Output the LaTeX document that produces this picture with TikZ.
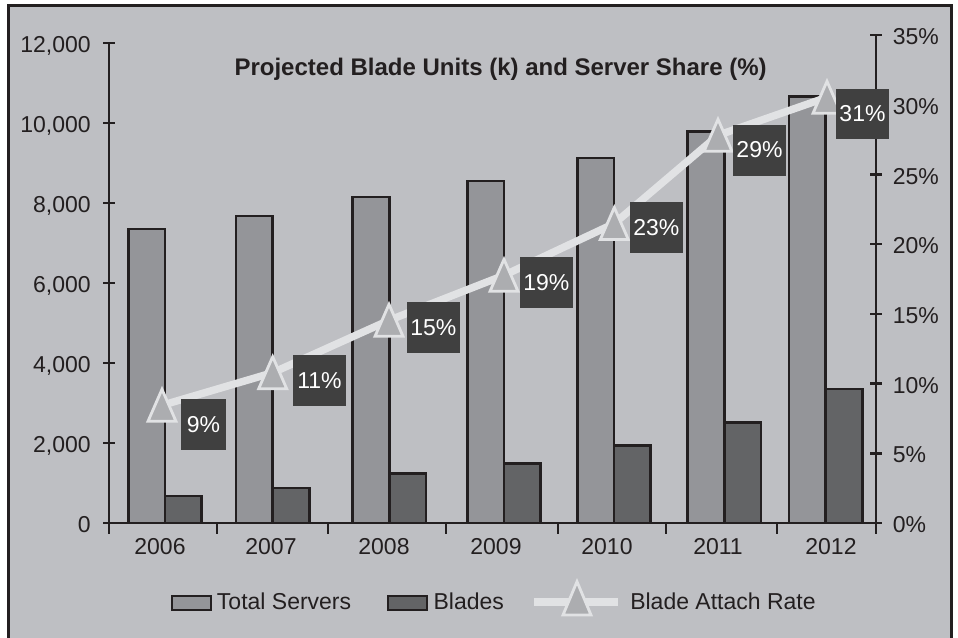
\documentclass[tikz,border=0pt]{standalone}
\usepackage{fontspec}
\setmainfont{Liberation Sans}
\definecolor{panelgray}{RGB}{190,191,195}
\definecolor{servergray}{RGB}{148,149,153}
\definecolor{bladegray}{RGB}{99,100,102}
\definecolor{boxgray}{RGB}{64,64,64}
\definecolor{ratelight}{RGB}{225,226,228}
\definecolor{markergray}{RGB}{172,173,176}
\definecolor{inkblack}{RGB}{35,31,32}
\newcommand\plainsize{\fontsize{17.25pt}{20pt}\selectfont}
\newcommand\titlesize{\fontsize{18pt}{21pt}\selectfont\bfseries}
\tikzset{
  frameline/.style={draw=inkblack,line width=2.25pt},
  axisline/.style={draw=inkblack,line width=1.9pt},
  serverbar/.style={fill=servergray,draw=inkblack,line width=1.9pt},
  bladebar/.style={fill=bladegray,draw=inkblack,line width=1.9pt},
  rateline/.style={draw=ratelight,line width=5.6pt},
  ratemarker/.style={fill=markergray,draw=ratelight,line width=2.1pt,line join=miter},
  valuebox/.style={fill=boxgray,text=white,inner sep=0pt,minimum width=39.75pt,minimum height=38.25pt,font=\plainsize},
  ticklabel/.style={text=inkblack,inner sep=0pt,font=\plainsize},
  legendtext/.style={text=inkblack,inner sep=0pt,anchor=base west,font=\plainsize}
}
\begin{document}
\begin{tikzpicture}[x=0.75pt,y=-0.75pt]
\useasboundingbox (0,0) rectangle (958,637);
% panel and frame
\begin{scope}
  \clip (0,0) rectangle (958,637);
  \fill[white] (0,0) rectangle (958,637);
  \fill[panelgray] (8,5) rectangle (951,660);
  \draw[frameline] (8,5) rectangle (951,660);
\end{scope}

% bars: group centre / server top / blade top (pixels)
\foreach \c/\s/\b in {165/229/496, 272.7/216/488, 389.3/197/473.3, 504/181/463.3,
                      614/158/445.7, 724.3/131.7/422.7, 825.7/96.5/389}{
  \draw[serverbar] (\c-36.7,523) rectangle (\c,\s);
  \draw[bladebar] (\c,523) rectangle (\c+36.7,\b);
}

% left axis
\draw[axisline] (109,43) -- (109,534);
\foreach \y/\t in {43/12{,}000, 123/10{,}000, 203/8{,}000, 283/6{,}000, 363/4{,}000, 443/2{,}000, 523/0}{
  \draw[axisline] (103,\y) -- (115,\y);
  \node[ticklabel,anchor=base east] (L\y) at (91,\y+9.5) {\t};
}
% right axis
\draw[axisline] (876,35.1) -- (876,534);
\foreach \y/\t in {35.1/35, 104.8/30, 174.5/25, 244.2/20, 313.9/15, 383.6/10, 453.3/5, 523/0}{
  \draw[axisline] (870,\y) -- (882,\y);
  \node[ticklabel,anchor=base west] (R\t) at (892.5,\y+9.5) {\t\%};
}
% category axis
\draw[axisline] (103,523) -- (882,523);
\foreach \x in {217,328,446,558,666,777}{
  \draw[axisline] (\x,523) -- (\x,534);
}
\foreach \x/\t in {160/2006, 271/2007, 384/2008, 496/2009, 607/2010, 718/2011, 831/2012}{
  \node[ticklabel,anchor=base] (Y\t) at (\x,554) {\t};
}

% title
\node[text=inkblack,inner sep=0pt,anchor=base west,font=\titlesize] (title) at (234.3,75)
  {Projected Blade Units (k) and Server Share (\%)};

% attach-rate line and markers
\coordinate (m1) at (162,405.3);
\coordinate (m2) at (272.7,372.7);
\coordinate (m3) at (389,320.3);
\coordinate (m4) at (504,275.3);
\coordinate (m5) at (614.3,223.5);
\coordinate (m6) at (718,135.3);
\coordinate (m7) at (827,97.3);
\draw[rateline] (m1) -- (m2) -- (m3) -- (m4) -- (m5) -- (m6) -- (m7);
\foreach \m in {m1,m2,m3,m4,m5,m6,m7}{
  \draw[ratemarker,shift={(\m)}] (-14,16) -- (0,-16) -- (14,16) -- cycle;
}

% value boxes
\node[valuebox,minimum width=33.75pt] (v1) at (203.5,424.5) {9\%};
\node[valuebox] (v2) at (319.5,380.5) {11\%};
\node[valuebox] (v3) at (433.3,327.2) {15\%};
\node[valuebox] (v4) at (546.3,282.2) {19\%};
\node[valuebox] (v5) at (656.3,227.2) {23\%};
\node[valuebox] (v6) at (759.5,150) {29\%};
\node[valuebox,minimum height=37.5pt] (v7) at (862.5,114) {31\%};

% legend
\draw[serverbar] (172,596) rectangle (211,610);
\node[legendtext] (lgS) at (216.7,609.5) {Total Servers};
\draw[bladebar] (388,596) rectangle (427,610);
\node[legendtext] (lgB) at (433.3,609.5) {Blades};
\coordinate (lgA) at (534,601.7);
\coordinate (lgZ) at (618.3,601.7);
\draw[rateline,line width=6pt] (lgA) -- (lgZ);
\coordinate (lgM) at (577,598.3);
\draw[ratemarker,shift={(lgM)}] (-14,16.7) -- (0,-16.7) -- (14,16.7) -- cycle;
\node[legendtext] (lgR) at (630,609.5) {Blade Attach Rate};
\end{tikzpicture}
\end{document}
